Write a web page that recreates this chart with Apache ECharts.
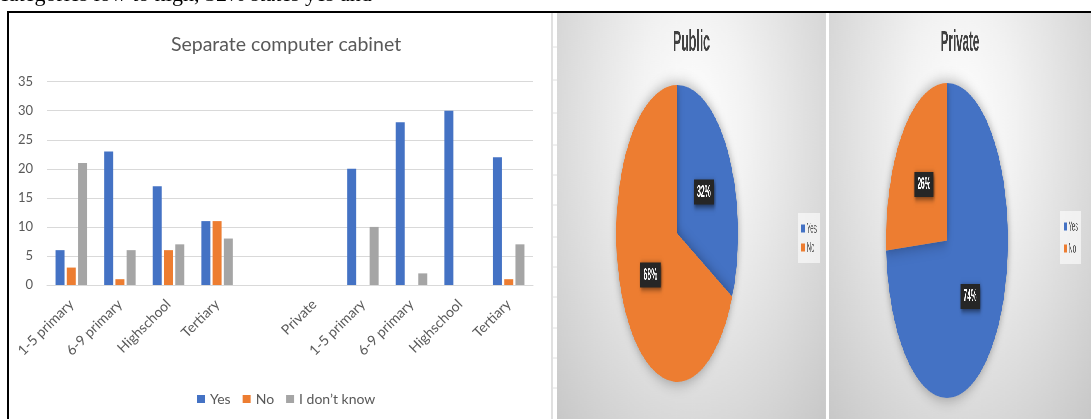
<!DOCTYPE html>
<html>
<head>
<meta charset="utf-8">
<script src="https://cdn.jsdelivr.net/npm/echarts@6/dist/echarts.min.js"></script>
<style>
  html, body { margin: 0; padding: 0; background: #ffffff; }
  #wrap { position: relative; width: 1091px; height: 419px; overflow: hidden; background: #ffffff; }
  #main { position: absolute; left: 0; top: 0; width: 1091px; height: 419px; }
  .pie { position: absolute; top: 13px; height: 406px; transform-origin: 0 0;
         background: radial-gradient(ellipse farthest-corner at 50% 28%, #ffffff 0%, #f2f2f2 30%, #c8c8c8 100%); }
  #pub { left: 557px; width: 656px; transform: scaleX(0.41); }
  #pri { left: 829px; width: 677px; transform: scaleX(0.387); }
</style>
</head>
<body>
<div id="wrap">
  <div id="main"></div>
  <div id="pub" class="pie"></div>
  <div id="pri" class="pie"></div>
</div>
<script>
// ---- data ----
const barTitle = "Separate computer cabinet";
const barCategories = ["1-5 primary", "6-9 primary", "Highschool", "Tertiary", "", "Private", "1-5 primary", "6-9 primary", "Highschool", "Tertiary"];
const yesValues = [6, 23, 17, 11, null, null, 20, 28, 30, 22];
const noValues = [3, 1, 6, 11, null, null, null, null, null, 1];
const dontKnowValues = [21, 6, 7, 8, null, null, 10, 2, null, 7];
const seriesNames = ["Yes", "No", "I don\u2019t know"];
const yMin = 0, yMax = 35, yInterval = 5;
const pieNames = ["Yes", "No"];
const publicValues = [32, 68];
const privateValues = [74, 26];
const pieTitles = ["Public", "Private"];
const topText = "categories low to high, 32% states yes and";

const BLUE = "#4472C4", ORANGE = "#ED7D31", GRAY = "#A5A5A5";
const TXT = "#595959";

// ---- decoration (not data) ----
const tickYs = [47, 80, 113, 145, 175, 205, 237, 267, 297, 328, 358, 388];
const graphics = [
  { type: "text", x: -1, y: 6, style: { text: topText, font: "22px 'Liberation Serif'", fill: "#000", align: "left", verticalAlign: "bottom" } },
  { type: "rect", shape: { x: 7, y: 11, width: 1084, height: 2 }, style: { fill: "#000" } },
  { type: "rect", shape: { x: 7, y: 11, width: 2, height: 408 }, style: { fill: "#000" } },
  { type: "line", shape: { x1: 552, y1: 13, x2: 552, y2: 419 }, style: { stroke: "#e0e0e0", lineWidth: 2 } }
];
tickYs.forEach(function (ty) {
  graphics.push({ type: "line", shape: { x1: 552, y1: ty, x2: 557, y2: ty }, style: { stroke: "#e0e0e0", lineWidth: 1 } });
});

const main = echarts.init(document.getElementById("main"), null, { renderer: "canvas" });
main.setOption({
  animation: false,
  backgroundColor: "transparent",
  title: {
    text: barTitle, left: 281, top: 30, textAlign: "center",
    textStyle: { fontFamily: "Lato", fontSize: 19.5, fontWeight: "normal", color: TXT }
  },
  legend: {
    data: seriesNames, left: 192, top: 387, itemWidth: 8, itemHeight: 8, itemGap: 12, icon: "rect",
    textStyle: { fontFamily: "Lato", fontSize: 14, color: TXT }
  },
  grid: { left: 47, right: 558, top: 81.7, bottom: 134, containLabel: false },
  xAxis: {
    type: "category", data: barCategories,
    axisLine: { show: true, lineStyle: { color: "#d9d9d9", width: 1 } },
    axisTick: { show: false },
    axisLabel: { interval: 0, rotate: 45, margin: 17, fontFamily: "Lato", fontSize: 14, color: TXT }
  },
  yAxis: {
    type: "value", min: yMin, max: yMax, interval: yInterval,
    axisLine: { show: false }, axisTick: { show: false },
    axisLabel: { margin: 14, fontFamily: "Lato", fontSize: 13, color: TXT },
    splitLine: { lineStyle: { color: "#d9d9d9", width: 1 } }
  },
  series: [
    { name: seriesNames[0], type: "bar", data: yesValues, barWidth: 9, barGap: "25%", itemStyle: { color: BLUE } },
    { name: seriesNames[1], type: "bar", data: noValues, barWidth: 9, barGap: "25%", itemStyle: { color: ORANGE } },
    { name: seriesNames[2], type: "bar", data: dontKnowValues, barWidth: 9, barGap: "25%", itemStyle: { color: GRAY } }
  ],
  graphic: graphics
});

function pieOption(title, values, cx, cy, r, legendLeft, legendTop, legendGap) {
  return {
    animation: false,
    backgroundColor: "transparent",
    color: [BLUE, ORANGE],
    title: {
      text: title, left: "center", top: 10,
      textStyle: { fontFamily: "Liberation Sans", fontSize: 30, fontWeight: "bold", color: "#404040" }
    },
    legend: {
      orient: "vertical", left: legendLeft, top: legendTop, data: pieNames,
      itemWidth: 8, itemHeight: 8, icon: "rect", itemGap: legendGap,
      backgroundColor: "rgba(255,255,255,0.6)", padding: [8, 8],
      textStyle: { fontFamily: "Liberation Sans", fontSize: 15, color: TXT }
    },
    series: [{
      type: "pie", center: [cx, cy], radius: r, startAngle: 90, clockwise: true,
      data: pieNames.map(function (n, i) { return { name: n, value: values[i] }; }),
      itemStyle: { shadowBlur: 16, shadowColor: "rgba(0,0,0,0.35)" },
      labelLine: { show: false },
      label: {
        show: true, position: "inside", formatter: "{d}%",
        fontFamily: "Liberation Sans", fontSize: 17, fontWeight: "bold", color: "#ffffff",
        backgroundColor: "#262626", padding: [4, 8],
        shadowBlur: 6, shadowColor: "rgba(0,0,0,0.6)", shadowOffsetX: 2, shadowOffsetY: 2
      },
      emphasis: { disabled: true }
    }]
  };
}

const pub = echarts.init(document.getElementById("pub"));
pub.setOption(pieOption(pieTitles[0], publicValues, 293, 220.5, 148.5, 588, 200, 4));
const pri = echarts.init(document.getElementById("pri"));
pri.setOption(pieOption(pieTitles[1], privateValues, 305, 227.5, 157.5, 598, 198, 7));
</script>
</body>
</html>
